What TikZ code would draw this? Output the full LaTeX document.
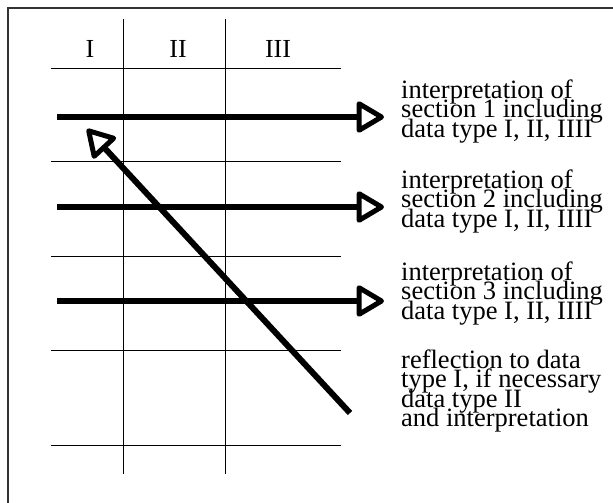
\documentclass[tikz,border=0pt]{standalone}
\usepackage{fontspec}
\setmainfont{Liberation Serif}
\usetikzlibrary{arrows.meta}
% fixed line pitch for the multi-line notes
\newcommand{\notefont}{\fontsize{26.5}{19.6}\selectfont\lineskiplimit=-100pt\relax}
\begin{document}
\begin{tikzpicture}[x=1pt,y=-1pt,
  gridline/.style={line width=0.9pt},
  frameline/.style={line width=1.3pt, black!80},
  flow/.style={line width=6pt, line cap=butt,
    -{Triangle[open, length=30pt, width=34pt, line width=5pt, round]}},
  hdr/.style={inner sep=0pt, anchor=base, font=\fontsize{26}{19}\selectfont},
  note/.style={inner sep=0pt, anchor=base west, align=left, font=\notefont}]
\useasboundingbox (0,0) rectangle (613,503);
% outer frame (top and left edges)
\draw[frameline] (8,503) -- (8,8) -- (613,8);
% table columns
\draw[gridline] (123,19) -- (123,474);
\draw[gridline] (225,19) -- (225,474);
% table rows
\foreach \yy in {68,161,256,350,445}
  \draw[gridline] (51,\yy) -- (341,\yy);
% column headers
\node[hdr] (h1) at (90,58) {I};
\node[hdr] (h2) at (178,58) {II};
\node[hdr] (h3) at (278,58) {III};
% arrow end points
\coordinate (s1) at (57,117);  \coordinate (e1) at (384,117);
\coordinate (s2) at (57,207);  \coordinate (e2) at (384,207);
\coordinate (s3) at (57,301);  \coordinate (e3) at (384,301);
\coordinate (rs) at (350,413); \coordinate (re) at (87,129);
\draw[flow] (s1) -- (e1);
\draw[flow] (s2) -- (e2);
\draw[flow] (s3) -- (e3);
\draw[flow] (rs) -- (re);
% explanations (anchored at the baseline of the last line)
\node[note] (t1) at (401,137.3) {interpretation of\\section 1 including\\data type I, II, IIII};
\node[note] (t2) at (401,227.2) {interpretation of\\section 2 including\\data type I, II, IIII};
\node[note] (t3) at (401,319.2) {interpretation of\\section 3 including\\data type I, II, IIII};
\node[note] (t4) at (401,426.8) {reflection to data\\type I, if necessary\\data type II\\and interpretation};
\end{tikzpicture}
\end{document}
